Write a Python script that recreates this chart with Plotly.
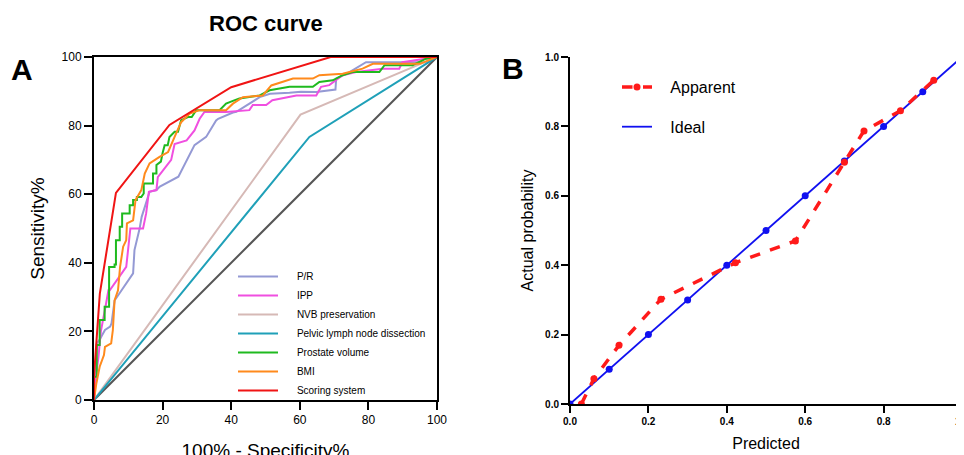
import plotly.graph_objects as go

W, H = 964, 455
OX, OY = 8, 8  # page body margin offset of the rendered figure

# ---------------- Panel A data (ROC curves, % units) ----------------
pr_x = [0, 0.5, 0.8, 1.6, 3.2, 4.7, 5.1, 6.0, 11.4, 11.8, 13.3, 13.9, 16.2, 18.2, 19.2, 24.0, 24.6,
        29.3, 32.4, 32.7, 35.6, 36.2, 40.5, 41.5, 48.3, 50.2, 51.3, 57.0, 60.3, 64.8, 70.4, 70.6,
        74.5, 79.3, 97.0, 100]
pr_y = [0, 8.0, 16.5, 17.5, 20.4, 21.4, 22.3, 29.0, 36.9, 43.7, 50.0, 53.4, 60.7, 61.2, 62.2, 65.0, 65.1,
        74.3, 76.3, 76.7, 81.5, 82.0, 83.8, 84.0, 88.3, 88.8, 89.3, 89.6, 89.9, 89.8, 90.5, 93.7,
        95.6, 98.5, 98.5, 100]

ipp_x = [0, 0.3, 1.3, 1.7, 2.0, 3.5, 4.2, 4.6, 6.0, 9.4, 10.6, 14.3, 15.2, 16.0, 18.2, 18.6, 22.5,
         23.5, 27.0, 29.3, 30.8, 32.2, 38.5, 45.3, 46.3, 50.2, 52.0, 59.0, 64.8, 66.2, 68.6, 72.5,
         76.4, 84.2, 89.0, 89.9, 100]
ipp_y = [0, 5.0, 12.6, 17.5, 20.0, 28.0, 32.0, 32.0, 34.0, 38.8, 50.0, 50.0, 54.4, 60.7, 61.2, 65.0, 70.0,
         74.6, 75.7, 78.6, 82.0, 84.0, 84.0, 84.5, 86.0, 86.0, 87.4, 88.8, 88.8, 91.3, 91.8, 94.7,
         95.6, 96.6, 96.6, 98.5, 100]

nvb_x = [0, 60.2, 100]
nvb_y = [0, 83.2, 100]

plnd_x = [0, 62.8, 100]
plnd_y = [0, 76.7, 100]

pv_x = [0, 0, 0.8, 0.8, 1.65, 1.65, 3.1, 3.1, 4.4, 4.4, 6.0, 6.0, 6.4, 6.4, 7.5, 7.5, 8.2, 8.2, 10.4,
        10.4, 11.4, 11.4, 12.5, 12.5, 13.8, 14.5, 14.5, 17.2, 17.2, 18.2, 18.2, 19.5, 20.0, 20.6, 21.5,
        22.0, 23.5, 24.5, 25.4, 27.4, 28.5, 29.8, 36.6, 38.5, 40.5, 42.4, 48.3, 51.2, 57.0, 63.8, 65.7,
        69.6, 72.5, 75.4, 83.2, 84.7, 92.9, 96.8, 100]
pv_y = [0, 6.8, 6.8, 16.0, 16.0, 23.3, 23.3, 27.2, 27.2, 38.8, 38.8, 39.5, 39.5, 46.6, 46.6, 50.5, 50.5,
        54.4, 54.4, 56.8, 56.8, 58.3, 58.3, 59.2, 59.2, 60.2, 63.1, 63.1, 66.0, 66.0, 68.5, 69.5, 72.0,
        74.3, 74.3, 76.7, 78.2, 78.2, 81.6, 82.5, 82.5, 84.5, 84.5, 86.4, 87.2, 87.9, 88.8, 90.3, 91.3,
        91.3, 92.7, 93.2, 94.7, 95.6, 95.6, 97.6, 97.6, 99.5, 100]

bmi_x = [0, 0.7, 1.65, 2.9, 3.2, 5.0, 5.5, 6.0, 7.0, 7.6, 8.5, 9.0, 9.4, 9.6, 11.4, 12.1, 13.8, 14.8,
         16.2, 19.1, 21.6, 23.5, 25.4, 27.9, 30.8, 38.5, 40.5, 43.4, 49.2, 51.7, 55.0, 58.0, 63.8,
         65.7, 72.5, 78.3, 81.3, 95.0, 100]
bmi_y = [0, 4.9, 9.7, 13.1, 15.5, 16.5, 20.4, 29.0, 32.0, 38.8, 44.7, 46.0, 46.6, 51.5, 52.4, 58.3, 61.2,
         66.0, 69.0, 70.9, 72.3, 76.7, 81.0, 83.5, 84.5, 84.5, 86.4, 88.3, 88.8, 91.7, 92.7, 93.7,
         93.7, 94.7, 95.1, 96.6, 98.0, 98.0, 100]

score_x = [0, 0, 1.7, 6.4, 22.0, 40.0, 69.0, 100]
score_y = [0, 7.0, 31.0, 60.4, 80.2, 91.2, 100, 100]

ref_x = [0, 100]
ref_y = [0, 100]

roc_ticks = [0, 20, 40, 60, 80, 100]

# ---------------- Panel B data (calibration) ----------------
app_x = [0.029, 0.061, 0.125, 0.232, 0.422, 0.575, 0.700, 0.750, 0.843, 0.928]
app_y = [0.000, 0.073, 0.169, 0.302, 0.407, 0.470, 0.697, 0.787, 0.845, 0.933]

ideal_x = [0.0, 0.1, 0.2, 0.3, 0.4, 0.5, 0.6, 0.7, 0.8, 0.9, 1.0]
ideal_y = [0.0, 0.1, 0.2, 0.3, 0.4, 0.5, 0.6, 0.7, 0.8, 0.9, 1.0]

cal_ticks = [0.0, 0.2, 0.4, 0.6, 0.8, 1.0]

FONT = "Liberation Sans, Arial, sans-serif"
PAD_A = "\u00a0" * 5
PAD_B = "\u00a0" * 3


def px(v):
    return (v - OX) / W


def py(v):
    return 1 - (v - OY) / H


fig = go.Figure()

roc_series = [
    ("P/R", pr_x, pr_y, "#9499d4"),
    ("IPP", ipp_x, ipp_y, "#f04fe0"),
    ("NVB preservation", nvb_x, nvb_y, "#d6b9b6"),
    ("Pelvic lymph node dissection", plnd_x, plnd_y, "#1fa0b8"),
    ("Prostate volume", pv_x, pv_y, "#1fba1f"),
    ("BMI", bmi_x, bmi_y, "#ff8a1c"),
    ("Scoring system", score_x, score_y, "#f01414"),
]

fig.add_trace(go.Scatter(x=ref_x, y=ref_y, mode="lines", line=dict(color="#555555", width=2),
                         showlegend=False, xaxis="x", yaxis="y", hoverinfo="skip"))
for name, xs, ys, col in roc_series:
    fig.add_trace(go.Scatter(x=xs, y=ys, mode="lines", name=PAD_A + name,
                             line=dict(color=col, width=2), xaxis="x", yaxis="y", legend="legend"))

# Panel B
fig.add_trace(go.Scatter(x=ideal_x, y=ideal_y, mode="lines+markers", showlegend=False,
                         line=dict(color="#1010f0", width=1.8), marker=dict(color="#1010f0", size=7),
                         xaxis="x2", yaxis="y2"))
fig.add_trace(go.Scatter(x=app_x, y=app_y, mode="lines+markers", name=PAD_B + "Apparent",
                         line=dict(color="#ff1a1a", width=3.5, dash="dash"),
                         marker=dict(color="#ff1a1a", size=7),
                         xaxis="x2", yaxis="y2", legend="legend2", legendgroup="a", legendrank=1))
# legend key for the ideal line (line only, as in the reference key)
fig.add_trace(go.Scatter(x=[None], y=[None], mode="lines", name=PAD_B + "Ideal",
                         line=dict(color="#1010f0", width=1.8),
                         xaxis="x2", yaxis="y2", legend="legend2", legendgroup="b", legendrank=2))

axA = dict(showgrid=False, zeroline=False, showline=True, linecolor="black", linewidth=2,
           mirror=True, ticks="outside", ticklen=8, tickwidth=2, tickcolor="black",
           tickfont=dict(family=FONT, size=12, color="black"), range=[0, 100], automargin=False,
           tickvals=roc_ticks, ticktext=[str(t) for t in roc_ticks])
axB = dict(showgrid=False, zeroline=False, showline=True, linecolor="black", linewidth=2,
           mirror=False, ticks="outside", ticklen=7, tickwidth=2, tickcolor="black",
           tickfont=dict(family=FONT, size=10, color="black", weight="bold"), range=[0, 1],
           automargin=False,
           tickvals=cal_ticks, ticktext=["%.1f" % t for t in cal_ticks])

fig.update_layout(
    width=W, height=H, margin=dict(l=0, r=0, t=0, b=0, autoexpand=False),
    paper_bgcolor="white", plot_bgcolor="white",
    font=dict(family=FONT, color="black"),
    xaxis=dict(axA, domain=[px(94), px(437)], anchor="y",
               title=dict(text="100% - Specificity%", font=dict(size=19), standoff=17)),
    yaxis=dict(axA, domain=[py(400), py(57)], anchor="x",
               title=dict(text="Sensitivity%", font=dict(size=19), standoff=12)),
    xaxis2=dict(axB, domain=[px(570), px(962)], anchor="y2",
                title=dict(text="Predicted", font=dict(size=16), standoff=12)),
    yaxis2=dict(axB, domain=[py(404), py(57)], anchor="x2",
                title=dict(text="Actual probability", font=dict(size=16), standoff=7)),
    legend=dict(x=px(233), y=py(262), xanchor="left", yanchor="top",
                font=dict(family=FONT, size=10, color="black"), bgcolor="rgba(0,0,0,0)",
                itemwidth=40, tracegroupgap=0),
    legend2=dict(x=px(617), y=py(70), xanchor="left", yanchor="top",
                 font=dict(family=FONT, size=16, color="black"), bgcolor="rgba(0,0,0,0)",
                 traceorder="grouped", tracegroupgap=16),
    annotations=[
        dict(text="<b>ROC curve</b>", x=px(266), y=py(24), xref="paper", yref="paper",
             showarrow=False, font=dict(size=22), xanchor="center", yanchor="middle"),
        dict(text="<b>A</b>", x=px(22), y=py(70), xref="paper", yref="paper",
             showarrow=False, font=dict(size=30), xanchor="center", yanchor="middle"),
        dict(text="<b>B</b>", x=px(513), y=py(69), xref="paper", yref="paper",
             showarrow=False, font=dict(size=30), xanchor="center", yanchor="middle"),
    ],
)

fig.write_html("out.html")
